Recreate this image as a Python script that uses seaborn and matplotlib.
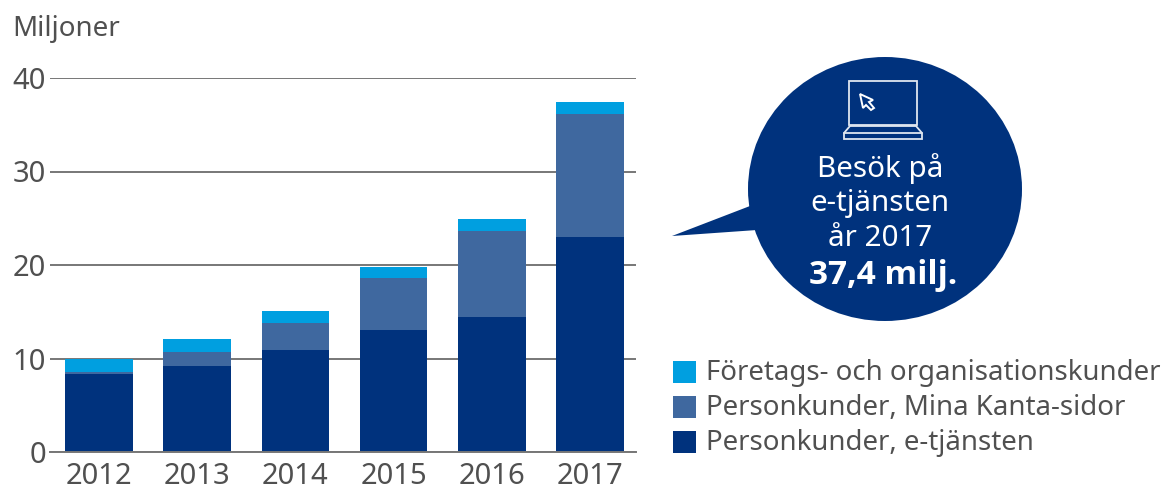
import matplotlib
matplotlib.use("Agg")
import matplotlib.pyplot as plt
import seaborn as sns
import pandas as pd
from matplotlib.patches import Ellipse, Polygon, Rectangle

years = ["2012", "2013", "2014", "2015", "2016", "2017"]
e_tjansten = [8.3, 9.25, 10.9, 13.0, 14.4, 23.0]
mina_kanta = [0.3, 1.4, 2.9, 5.6, 9.2, 13.2]
foretag = [1.35, 1.45, 1.3, 1.15, 1.3, 1.2]
series_names = ["Personkunder, e-tjänsten", "Personkunder, Mina Kanta-sidor", "Företags- och organisationskunder"]
colors = ["#00327d", "#3f689f", "#009fe0"]
yticks = [0, 10, 20, 30, 40]

sns.set_theme(style="white")
plt.rcParams["font.family"] = ["Noto Sans", "DejaVu Sans"]
W, H = 1164, 491
text_c = "#505050"
fig = plt.figure(figsize=(W/100, H/100), dpi=100)
ax = fig.add_axes([50/W, 1-452/H, (636-50)/W, (452-78)/H])
df = pd.DataFrame({"year": years, "a": e_tjansten, "b": mina_kanta, "c": foretag})
bottoms = [0.0]*len(years)
for col, c in zip(["a", "b", "c"], colors):
    sns.barplot(data=df, x="year", y=col, color=c, bottom=bottoms,
                width=0.69, saturation=1, ax=ax, zorder=3, linewidth=0)
    bottoms = [b+v for b, v in zip(bottoms, df[col])]
ax.set_xlim(-0.5, 5.47)
ax.set_ylim(0, 40)
ax.set_yticks(yticks)
ax.set_xlabel(""); ax.set_ylabel("")
ax.grid(axis="y", color="#777777", lw=1.4, zorder=0)
ax.set_axisbelow(True)
for s in ["top", "right", "left"]:
    ax.spines[s].set_visible(False)
ax.spines["bottom"].set_color("#777777")
ax.spines["bottom"].set_linewidth(1.4)
ax.spines["bottom"].set_zorder(4)
ax.tick_params(axis="x", length=0, labelsize=21, labelcolor=text_c, pad=7)
ax.tick_params(axis="y", length=0, labelsize=21, labelcolor=text_c, pad=3)

ov = fig.add_axes([0, 0, 1, 1])
ov.set_xlim(0, W); ov.set_ylim(H, 0); ov.axis("off"); ov.patch.set_alpha(0)
ov.text(12, 29, "Miljoner", fontsize=20, color=text_c, va="center")
navy = "#00327d"
ov.add_patch(Ellipse((885, 189), 274, 264, color=navy, lw=0))
ov.add_patch(Polygon([(672, 236), (750, 206), (757, 230)], color=navy, lw=0))
lap = dict(fc="none", ec="#dfe6f0", lw=1.3)
ov.add_patch(Rectangle((849, 81), 68, 44, **lap))
ov.add_patch(Polygon([(844, 139), (844, 133), (850, 126), (916, 126), (922, 133), (922, 139)], **lap))
ov.plot([844, 922], [133, 133], color="#dfe6f0", lw=1.3)
ov.add_patch(Polygon([(860, 94), (873, 100), (869, 102), (874, 108), (871, 110), (866, 105), (863, 108)], fc="none", ec="white", lw=1.4))
for y, t in [(169, "Besök på"), (204, "e-tjänsten"), (238, "år 2017")]:
    ov.text(880, y, t, color="white", fontsize=21.3, ha="center", va="center")
ov.text(883.5, 275, "37,4 milj.", color="white", fontsize=24, ha="center", va="center",
        fontweight="bold", family=["Open Sans", "DejaVu Sans"])
for y, t, c in [(372, series_names[2], colors[2]), (407, series_names[1], colors[1]), (442, series_names[0], colors[0])]:
    ov.add_patch(Rectangle((673, y-11), 23, 22, color=c, lw=0))
    ov.text(706, y+1, t, fontsize=19.9, color=text_c, va="center")
fig.savefig("out.png", dpi=100)
